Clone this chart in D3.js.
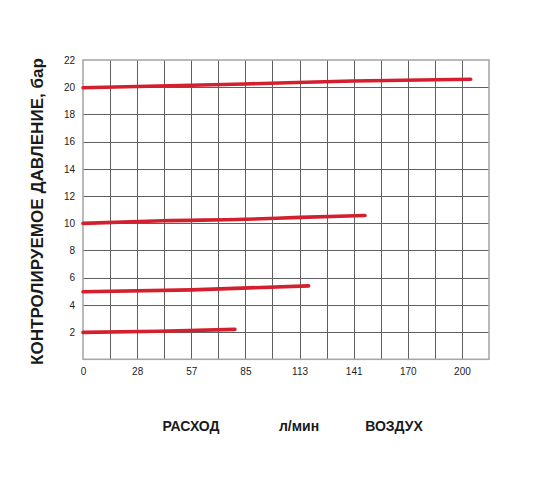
<!DOCTYPE html>
<html>
<head>
<meta charset="utf-8">
<script src="https://cdn.jsdelivr.net/npm/d3@7"></script>
<style>
  html, body { margin: 0; padding: 0; background: #fff; }
  svg { display: block; font-family: "Liberation Sans", Arial, sans-serif; }
</style>
</head>
<body>
<svg id="chart" width="558" height="494"></svg>
<script>
// ---- data ----
const xTickValues = [0, 28.32, 56.63, 84.95, 113.27, 141.58, 169.9, 198.22];
const xTickLabels = ["0", "28", "57", "85", "113", "141", "170", "200"];
const yTickValues = [2, 4, 6, 8, 10, 12, 14, 16, 18, 20, 22];
const xGridStep = 14.158;      // l/min per grid column
const xMax = 212.37;           // 15 columns
const yMax = 22;

const series20 = [[0, 19.96], [84.7, 20.24], [141.2, 20.46], [202.8, 20.58]];
const series10 = [[0, 9.99], [41.8, 10.18], [84.7, 10.29], [113.5, 10.43], [147.5, 10.57]];
const series5  = [[0, 4.96], [57, 5.1], [118, 5.4]];
const series2  = [[0, 1.98], [40, 2.06], [79.5, 2.2]];
const allSeries = [series20, series10, series5, series2];

const yTitle = "КОНТРОЛИРУЕМОЕ ДАВЛЕНИЕ, бар";
const xTitles = [["РАСХОД", 191], ["л/мин", 299], ["ВОЗДУХ", 394]];

// ---- layout ----
const svg = d3.select("#chart");
const pL = 83, pR = 489, pT = 60, pB = 359.3;

const x = d3.scaleLinear().domain([0, xMax]).range([pL, pR]);
const y = d3.scaleLinear().domain([0, yMax]).range([pB, pT]);

// grid
const g = svg.append("g");
const xGrid = d3.range(1, 15).map(i => i * xGridStep);
g.selectAll("line.vg").data(xGrid).enter().append("line")
  .attr("x1", d => Math.round(x(d)) + 0.5).attr("x2", d => Math.round(x(d)) + 0.5)
  .attr("y1", pT).attr("y2", pB)
  .attr("stroke", "#5f5f5f").attr("stroke-width", 1);
g.selectAll("line.hg").data(yTickValues.slice(0, -1)).enter().append("line")
  .attr("x1", pL).attr("x2", pR)
  .attr("y1", d => Math.round(y(d)) + 0.5).attr("y2", d => Math.round(y(d)) + 0.5)
  .attr("stroke", "#5f5f5f").attr("stroke-width", 1);

// frame
g.append("rect")
  .attr("x", pL).attr("y", pT)
  .attr("width", pR - pL).attr("height", pB - pT)
  .attr("fill", "none").attr("stroke", "#a8a8a8").attr("stroke-width", 1.6);

// axes (labels only)
const xAxis = d3.axisBottom(x).tickValues(xTickValues)
  .tickFormat((d, i) => xTickLabels[i]).tickSize(0).tickPadding(9);
const gx = svg.append("g").attr("transform", `translate(0,${pB})`).call(xAxis);
gx.select(".domain").remove();
gx.selectAll("text").attr("font-size", 10).attr("fill", "#222")
  .attr("font-family", "Liberation Sans, Arial, sans-serif");

const yAxis = d3.axisLeft(y).tickValues(yTickValues).tickSize(0).tickPadding(8);
const gy = svg.append("g").attr("transform", `translate(${pL},0)`).call(yAxis);
gy.select(".domain").remove();
gy.selectAll("text").attr("font-size", 10).attr("fill", "#222")
  .attr("font-family", "Liberation Sans, Arial, sans-serif");

// lines
const line = d3.line().x(d => x(d[0])).y(d => y(d[1])).curve(d3.curveMonotoneX);
svg.selectAll("path.s").data(allSeries).enter().append("path")
  .attr("d", line)
  .attr("fill", "none")
  .attr("stroke", "#d4202e")
  .attr("stroke-width", 3.6)
  .attr("stroke-linecap", "round");

// titles
svg.append("text")
  .attr("transform", "translate(42.5,211.5) rotate(-90)")
  .attr("text-anchor", "middle")
  .attr("font-size", 16.5).attr("font-weight", "bold").attr("fill", "#1a1a1a")
  .attr("textLength", 307).attr("lengthAdjust", "spacingAndGlyphs")
  .text(yTitle);

svg.selectAll("text.xt").data(xTitles).enter().append("text")
  .attr("x", d => d[1]).attr("y", 431)
  .attr("text-anchor", "middle")
  .attr("font-size", 14).attr("font-weight", "bold").attr("fill", "#1a1a1a")
  .text(d => d[0]);
</script>
</body>
</html>
